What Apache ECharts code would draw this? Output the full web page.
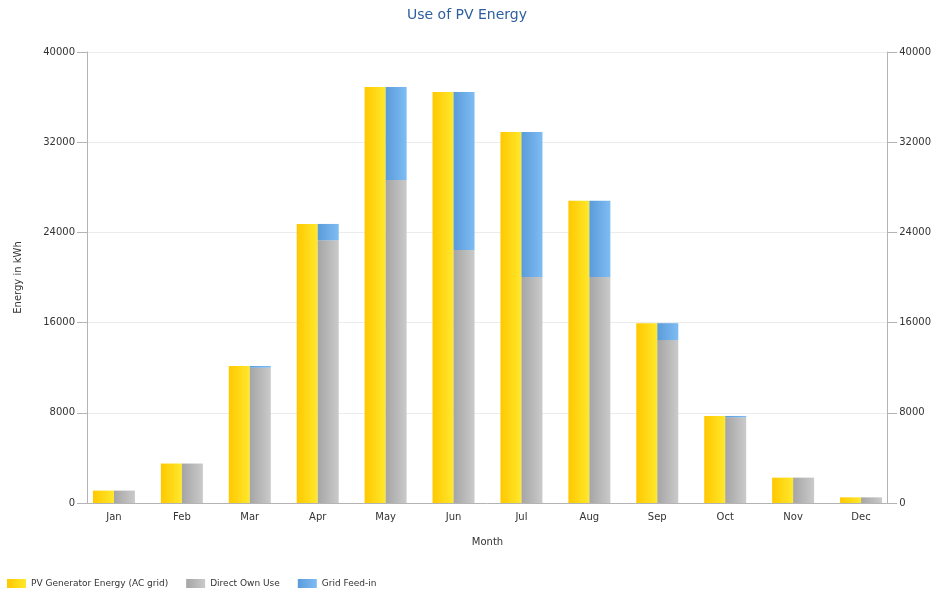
<!DOCTYPE html>
<html>
<head>
<meta charset="utf-8">
<script src="https://cdn.jsdelivr.net/npm/echarts@6/dist/echarts.min.js"></script>
<style>
	html, body { margin: 0; padding: 0; background: #fff; }
	#chart { width: 934px; height: 594px; }
</style>
</head>
<body>
<div id="chart"></div>
<script>
var months = ['Jan', 'Feb', 'Mar', 'Apr', 'May', 'Jun', 'Jul', 'Aug', 'Sep', 'Oct', 'Nov', 'Dec'];
var pvEnergy = [1100, 3500, 12150, 24750, 36900, 36450, 32900, 26800, 15950, 7720, 2250, 500];
var ownUse = [1100, 3500, 12000, 23300, 28650, 22450, 20050, 20050, 14450, 7600, 2250, 500];
var feedIn = [0, 0, 150, 1450, 8250, 14000, 12850, 6750, 1500, 120, 0, 0];
var yTicks = [0, 8000, 16000, 24000, 32000, 40000];

var font = "'DejaVu Sans', sans-serif";

function grad(c1, c2) {
	return new echarts.graphic.LinearGradient(0, 0, 1, 0, [
		{ offset: 0, color: c1 },
		{ offset: 1, color: c2 }
	]);
}

var mainChart = echarts.init(document.getElementById('chart'));

// visible y axes live on grid 0, bars on grid 1 (slightly wider so the month bands line up)
var yAxisBase = {
	type: 'value',
	min: yTicks[0],
	max: yTicks[yTicks.length - 1],
	interval: 8000,
	axisLine: { show: true, lineStyle: { color: '#b4b4b4' } },
	axisTick: { show: true, length: 10, lineStyle: { color: '#b4b4b4' } },
	axisLabel: {
		color: '#333',
		fontSize: 10,
		fontFamily: font,
		margin: 12,
		formatter: function (v) { return String(v); }
	},
	splitLine: { show: true, lineStyle: { color: '#ececec' } }
};

var option = {
	animation: false,
	title: {
		text: 'Use of PV Energy',
		left: 'center',
		top: 3,
		textStyle: { color: '#2d5f9e', fontSize: 14, fontWeight: 'normal', fontFamily: font }
	},
	legend: {
		left: 2,
		top: 574,
		itemWidth: 19,
		itemHeight: 9,
		itemGap: 18,
		icon: 'rect',
		textStyle: { color: '#333', fontSize: 9, fontFamily: font },
		data: ['PV Generator Energy (AC grid)', 'Direct Own Use', 'Grid Feed-in']
	},
	grid: [
		{ left: 87, right: 46, top: 52, bottom: 91 },
		{ left: 80, right: 39, top: 52, bottom: 91 }
	],
	xAxis: [
		{ type: 'category', gridIndex: 0, data: months, show: false },
		{
			type: 'category',
			gridIndex: 1,
			data: months,
			name: 'Month',
			nameLocation: 'middle',
			nameGap: 34,
			nameTextStyle: { color: '#333', fontSize: 10, fontFamily: font },
			axisLine: { lineStyle: { color: '#b4b4b4' } },
			axisTick: { alignWithLabel: true, length: 5, lineStyle: { color: '#b4b4b4' } },
			axisLabel: { color: '#333', fontSize: 10, fontFamily: font, margin: 9 }
		}
	],
	yAxis: [
		Object.assign({}, yAxisBase, {
			gridIndex: 0,
			position: 'left',
			name: 'Energy in kWh',
			nameLocation: 'middle',
			nameGap: 64,
			nameTextStyle: { color: '#333', fontSize: 10, fontFamily: font }
		}),
		Object.assign({}, yAxisBase, { gridIndex: 0, position: 'right' }),
		{ type: 'value', gridIndex: 1, min: 0, max: 40000, show: false }
	],
	series: [
		{
			name: 'PV Generator Energy (AC grid)',
			type: 'bar',
			xAxisIndex: 1,
			yAxisIndex: 2,
			barWidth: 21,
			barGap: '0%',
			itemStyle: { color: grad('#ffc800', '#ffe82c') },
			data: pvEnergy
		},
		{
			name: 'Direct Own Use',
			type: 'bar',
			stack: 'use',
			xAxisIndex: 1,
			yAxisIndex: 2,
			barWidth: 21,
			barGap: '0%',
			itemStyle: { color: grad('#a5a5a5', '#cacaca') },
			data: ownUse
		},
		{
			name: 'Grid Feed-in',
			type: 'bar',
			stack: 'use',
			xAxisIndex: 1,
			yAxisIndex: 2,
			barWidth: 21,
			barGap: '0%',
			itemStyle: { color: grad('#5a9bda', '#7ebcf3') },
			data: feedIn
		}
	]
};

mainChart.setOption(option);
</script>
</body>
</html>
